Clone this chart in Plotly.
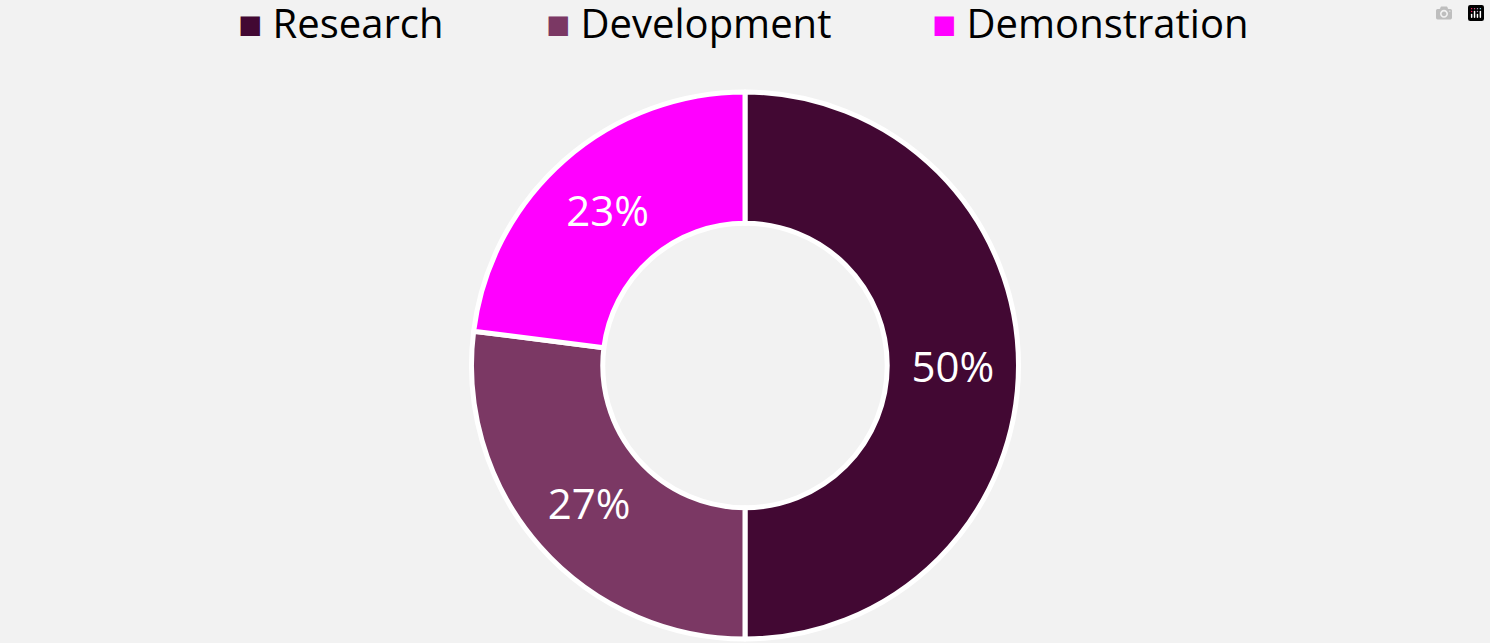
import plotly.graph_objects as go

labels = ["Research", "Development", "Demonstration"]
values = [50, 27, 23]
colors = ["#420833", "#7b3864", "#ff00ff"]
legend_x = [0.229, 0.462, 0.732]

fig = go.Figure(go.Pie(
    labels=labels, values=values, hole=0.52, sort=False, direction="clockwise",
    rotation=0, marker=dict(colors=colors, line=dict(color="white", width=5)),
    textinfo="percent", textposition="inside", insidetextorientation="horizontal",
    textfont=dict(color="white", size=42, family="Open Sans"), showlegend=False,
))
for lab, col, x in zip(labels, colors, legend_x):
    fig.add_annotation(x=x, y=1.0, xref="paper", yref="paper", xanchor="center",
                       yanchor="middle", yshift=70, showarrow=False,
                       text=f"<span style='color:{col}'>■</span> {lab}",
                       font=dict(size=40, family="Open Sans", color="black"))
fig.update_layout(
    width=1490, height=643, paper_bgcolor="#f2f2f2", plot_bgcolor="#f2f2f2",
    margin=dict(t=92, b=4, l=0, r=0),
    font=dict(family="Open Sans", size=40, color="black"),
)
fig.write_html("out.html")
with open("out.html") as f:
    html = f.read()
html = html.replace("<head>", "<head><style>body{margin:0;background:#f2f2f2}</style>", 1)
with open("out.html", "w") as f:
    f.write(html)
